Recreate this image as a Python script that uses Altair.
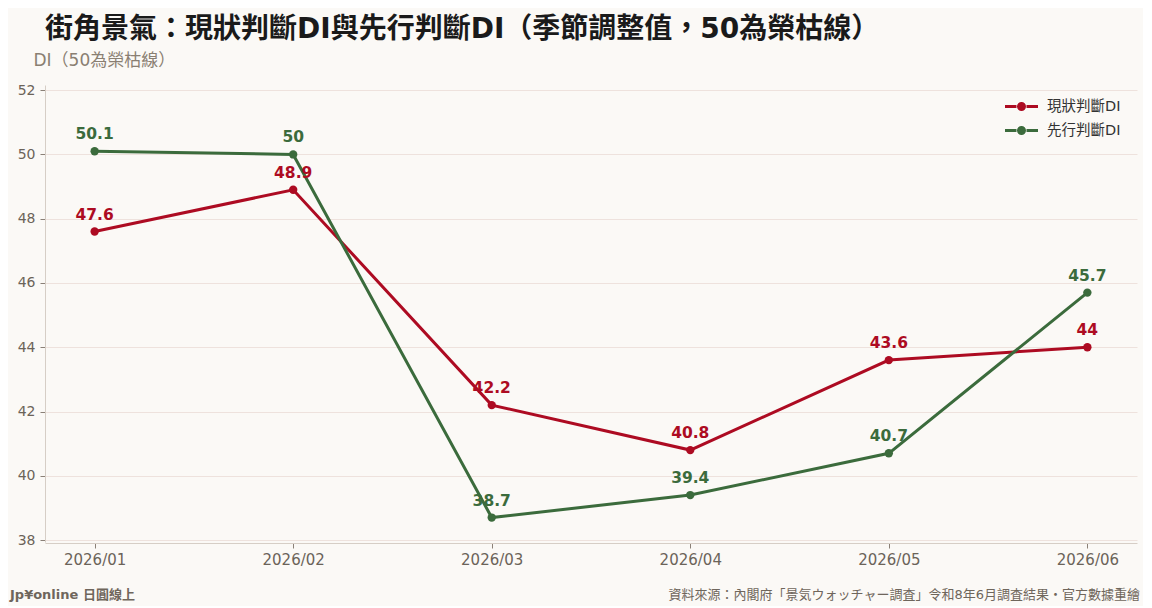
import altair as alt
import pandas as pd

months = ["2026/01", "2026/02", "2026/03", "2026/04", "2026/05", "2026/06"]
current_di = [47.6, 48.9, 42.2, 40.8, 43.6, 44.0]
outlook_di = [50.1, 50.0, 38.7, 39.4, 40.7, 45.7]
series_names = ["現狀判斷DI", "先行判斷DI"]
series_colors = ["#ad0b22", "#3b6b3c"]
y_ticks = [38, 40, 42, 44, 46, 48, 50, 52]

rows = []
for m, v in zip(months, current_di):
    rows.append({"month": m, "value": v, "series": series_names[0]})
for m, v in zip(months, outlook_di):
    rows.append({"month": m, "value": v, "series": series_names[1]})
df = pd.DataFrame(rows)
df["label"] = df["value"].map(lambda v: f"{v:g}")

FONT = "DejaVu Sans, Noto Sans CJK TC, sans-serif"
BG = "#fbf9f6"

legend_symbol = (
    "M-1.65,0L-0.5,0M0.5,0L1.65,0"
    "M-0.3,0A0.3,0.3 0 1 0 0.3,0A0.3,0.3 0 1 0 -0.3,0"
    "M-0.15,0A0.15,0.15 0 1 0 0.15,0A0.15,0.15 0 1 0 -0.15,0"
)

color = alt.Color(
    "series:N",
    scale=alt.Scale(domain=series_names, range=series_colors),
    sort=series_names,
    legend=alt.Legend(
        title=None,
        orient="none",
        legendX=965,
        legendY=10,
        symbolType=legend_symbol,
        symbolSize=400,
        symbolStrokeWidth=3,
        labelFontSize=14.5,
        labelColor="#333333",
        labelFont=FONT,
        rowPadding=3,
        labelOffset=14,
    ),
)

x = alt.X(
    "month:O",
    sort=months,
    scale=alt.Scale(type="point", padding=0.25),
    axis=alt.Axis(
        title=None,
        labelAngle=0,
        labelFontSize=15,
        labelColor="#6b6359",
        labelFont=FONT,
        labelPadding=4,
        tickColor="#8a8077",
        tickSize=5,
        domainColor="#d6cec6",
        grid=False,
        offset=1,
    ),
)
y = alt.Y(
    "value:Q",
    scale=alt.Scale(domain=[37.94, 52.16], nice=False, zero=False),
    axis=alt.Axis(
        values=y_ticks,
        title="DI（50為榮枯線）",
        titleAngle=0,
        titleAlign="left",
        titleBaseline="alphabetic",
        titleX=-12,
        titleY=-20,
        titleFontSize=17,
        titleFontWeight="normal",
        titleColor="#8a7f72",
        titleFont=FONT,
        labelFontSize=14,
        labelColor="#6b6359",
        labelFont=FONT,
        labelPadding=5,
        tickColor="#8a8077",
        tickSize=5,
        domainColor="#d6cec6",
        gridColor="#eee2dd",
    ),
)

base = alt.Chart(df)
lines = base.mark_line(strokeWidth=3).encode(x=x, y=y, color=color)
points = base.mark_circle(size=70, opacity=1).encode(
    x=x, y=y, color=alt.Color("series:N", scale=alt.Scale(domain=series_names, range=series_colors), legend=None)
)
labels = base.mark_text(
    dy=-12, fontSize=15.5, fontWeight="bold", font=FONT, baseline="alphabetic", align="center"
).encode(
    x=x,
    y=y,
    text="label:N",
    color=alt.Color("series:N", scale=alt.Scale(domain=series_names, range=series_colors), legend=None),
)

foot_df = pd.DataFrame({"t": ["Jp¥online 日圓線上"]})
src_df = pd.DataFrame({"t": ["資料來源：內閣府「景気ウォッチャー調査」令和8年6月調査結果・官方數據重繪"]})
footer_left = alt.Chart(foot_df).mark_text(
    align="left", baseline="middle", fontSize=13, fontWeight="bold", color="#6f665c", font=FONT
).encode(text="t:N", x=alt.value(-35), y=alt.value(510))
footer_right = alt.Chart(src_df).mark_text(
    align="right", baseline="middle", fontSize=13, color="#6f665c", font=FONT
).encode(text="t:N", x=alt.value(1095), y=alt.value(510))

chart = (
    alt.layer(lines, points, labels, footer_left, footer_right)
    .properties(
        width=1092,
        height=457,
        autosize=alt.AutoSizeParams(type="none"),
        padding={"left": 37, "top": 77, "right": 6, "bottom": 64},
        background=BG,
        title=alt.TitleParams(
            text="街角景氣：現狀判斷DI與先行判斷DI（季節調整值，50為榮枯線）",
            anchor="start",
            frame="group",
            fontSize=28,
            fontWeight="bold",
            color="#1a1a1a",
            font=FONT,
            offset=7,
            dx=0,
        ),
    )
    .configure_view(stroke=None)
)

chart.save("out.html", embed_options={"renderer": "svg", "actions": False})
